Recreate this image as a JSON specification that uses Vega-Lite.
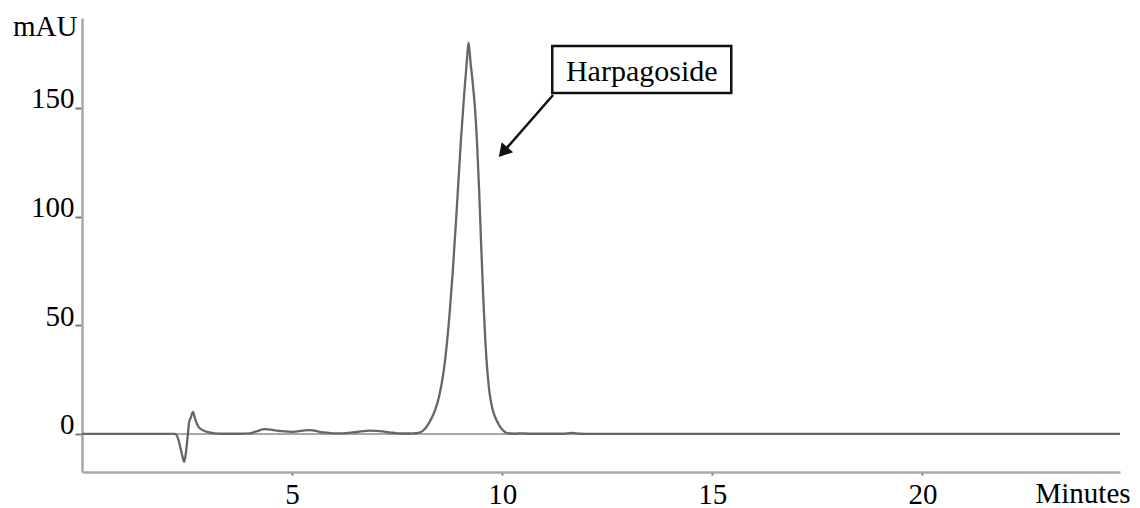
{
  "$schema": "https://vega.github.io/schema/vega-lite/v6.json",
  "width": 1038,
  "height": 454,
  "autosize": {"type": "none"},
  "padding": {"left": 82, "top": 18, "right": 20, "bottom": 36},
  "background": "white",
  "config": {
    "view": {"stroke": null},
    "axis": {"grid": false, "labelFont": "Liberation Serif", "titleFont": "Liberation Serif", "labelColor": "#000000", "titleColor": "#000000", "titleFontWeight": "normal"}
  },
  "datasets": {
    "trace": [
      {"t": 0, "mAU": 0}, {"t": 2.2, "mAU": 0}, {"t": 2.25, "mAU": -0.5}, {"t": 2.3, "mAU": -3}, {"t": 2.35, "mAU": -7}, {"t": 2.4, "mAU": -11}, {"t": 2.43, "mAU": -12.9}, {"t": 2.47, "mAU": -9}, {"t": 2.51, "mAU": -2}, {"t": 2.55, "mAU": 5.5}, {"t": 2.59, "mAU": 7.5}, {"t": 2.64, "mAU": 10.1}, {"t": 2.69, "mAU": 7}, {"t": 2.75, "mAU": 4}, {"t": 2.81, "mAU": 2.5}, {"t": 2.9, "mAU": 1.5}, {"t": 3.0, "mAU": 0.8}, {"t": 3.15, "mAU": 0.3}, {"t": 3.35, "mAU": 0.1}, {"t": 3.75, "mAU": 0.1}, {"t": 4.0, "mAU": 0.3}, {"t": 4.15, "mAU": 1.2}, {"t": 4.35, "mAU": 2.2}, {"t": 4.55, "mAU": 1.8}, {"t": 4.75, "mAU": 1.3}, {"t": 5.02, "mAU": 1.0}, {"t": 5.25, "mAU": 1.5}, {"t": 5.43, "mAU": 1.8}, {"t": 5.65, "mAU": 1.0}, {"t": 5.83, "mAU": 0.6}, {"t": 6.05, "mAU": 0.3}, {"t": 6.21, "mAU": 0.3}, {"t": 6.4, "mAU": 0.6}, {"t": 6.55, "mAU": 0.9}, {"t": 6.85, "mAU": 1.5}, {"t": 7.15, "mAU": 1.2}, {"t": 7.35, "mAU": 0.6}, {"t": 7.5, "mAU": 0.3}, {"t": 7.75, "mAU": 0.2}, {"t": 7.9, "mAU": 0.3},
      {"t": 8.0, "mAU": 0.5}, {"t": 8.1, "mAU": 1.3}, {"t": 8.2, "mAU": 3.3}, {"t": 8.3, "mAU": 6.5}, {"t": 8.4, "mAU": 10.8}, {"t": 8.5, "mAU": 17.5}, {"t": 8.6, "mAU": 28}, {"t": 8.68, "mAU": 41}, {"t": 8.75, "mAU": 56}, {"t": 8.82, "mAU": 73.9}, {"t": 8.921, "mAU": 104.5}, {"t": 9.017, "mAU": 135.2}, {"t": 9.102, "mAU": 158.2}, {"t": 9.16, "mAU": 172}, {"t": 9.198, "mAU": 180},
      {"t": 9.25, "mAU": 170}, {"t": 9.3, "mAU": 161}, {"t": 9.35, "mAU": 150}, {"t": 9.4, "mAU": 134}, {"t": 9.45, "mAU": 112}, {"t": 9.5, "mAU": 86}, {"t": 9.55, "mAU": 62}, {"t": 9.6, "mAU": 42}, {"t": 9.65, "mAU": 28}, {"t": 9.7, "mAU": 18.5}, {"t": 9.76, "mAU": 12}, {"t": 9.83, "mAU": 7.8}, {"t": 9.91, "mAU": 4.6}, {"t": 10.0, "mAU": 2.0}, {"t": 10.11, "mAU": 0.4},
      {"t": 10.28, "mAU": 0.1}, {"t": 10.45, "mAU": 0.3}, {"t": 10.65, "mAU": 0.1}, {"t": 11.45, "mAU": 0.1}, {"t": 11.65, "mAU": 0.5}, {"t": 11.85, "mAU": 0.1}, {"t": 12.15, "mAU": 0}, {"t": 24.7, "mAU": 0}
    ],
    "baseline": [{"t": 0, "t2": 24.7, "mAU": 0}],
    "box": [{"x1": 11.19, "x2": 15.45, "y1": 156.8, "y2": 178.4, "label": "Harpagoside", "xc": 13.32, "yb": 162.3}],
    "arrow": [{"x1": 11.21, "y1": 155.9, "x2": 10.02, "y2": 129.6}]
  },
  "layer": [
    {
      "data": {"name": "baseline"},
      "mark": {"type": "rule", "color": "#a8a8a8", "strokeWidth": 2},
      "encoding": {
        "x": {"field": "t", "type": "quantitative", "scale": {"domain": [0, 24.7], "nice": false, "zero": false},
          "axis": {"values": [5, 10, 15, 20], "tickSize": 3, "tickColor": "#777777", "tickWidth": 2, "labelPadding": 5, "labelFontSize": 29, "labelBaseline": "top", "domainColor": "#a8a8a8", "domainWidth": 2.5,
            "title": "Minutes", "titleFontSize": 29, "titleAlign": "left", "titleBaseline": "alphabetic", "titleX": 953, "titleY": 30}},
        "x2": {"field": "t2"},
        "y": {"field": "mAU", "type": "quantitative", "scale": {"domain": [-17.5, 191.3], "nice": false, "zero": false},
          "axis": {"values": [0, 50, 100, 150], "tickSize": 7, "tickColor": "#777777", "tickWidth": 2, "labelPadding": 1, "labelFontSize": 29, "labelBaseline": "alphabetic", "labelAlign": "right", "domainColor": "#a8a8a8", "domainWidth": 2.5,
            "title": "mAU", "titleFontSize": 29, "titleAngle": 0, "titleAlign": "right", "titleBaseline": "alphabetic", "titleX": -5, "titleY": 17}}
      }
    },
    {
      "data": {"name": "trace"},
      "mark": {"type": "line", "color": "#666666", "strokeWidth": 2.3, "interpolate": "monotone"},
      "encoding": {
        "x": {"field": "t", "type": "quantitative"},
        "y": {"field": "mAU", "type": "quantitative"}
      }
    },
    {
      "data": {"name": "box"},
      "mark": {"type": "rect", "fill": "white", "stroke": "#111111", "strokeWidth": 2.5},
      "encoding": {
        "x": {"field": "x1", "type": "quantitative"},
        "x2": {"field": "x2"},
        "y": {"field": "y1", "type": "quantitative"},
        "y2": {"field": "y2"}
      }
    },
    {
      "data": {"name": "box"},
      "mark": {"type": "text", "font": "Liberation Serif", "fontSize": 30, "align": "center", "baseline": "alphabetic", "color": "#000000"},
      "encoding": {
        "x": {"field": "xc", "type": "quantitative"},
        "y": {"field": "yb", "type": "quantitative"},
        "text": {"field": "label"}
      }
    },
    {
      "data": {"name": "arrow"},
      "mark": {"type": "rule", "color": "#111111", "strokeWidth": 2.5},
      "encoding": {
        "x": {"field": "x1", "type": "quantitative"},
        "y": {"field": "y1", "type": "quantitative"},
        "x2": {"field": "x2"},
        "y2": {"field": "y2"}
      }
    },
    {
      "data": {"name": "arrow"},
      "mark": {"type": "point", "shape": "triangle-up", "filled": true, "color": "#111111", "opacity": 1, "size": 230, "angle": 221},
      "encoding": {
        "x": {"field": "x2", "type": "quantitative"},
        "y": {"field": "y2", "type": "quantitative"}
      }
    }
  ]
}
